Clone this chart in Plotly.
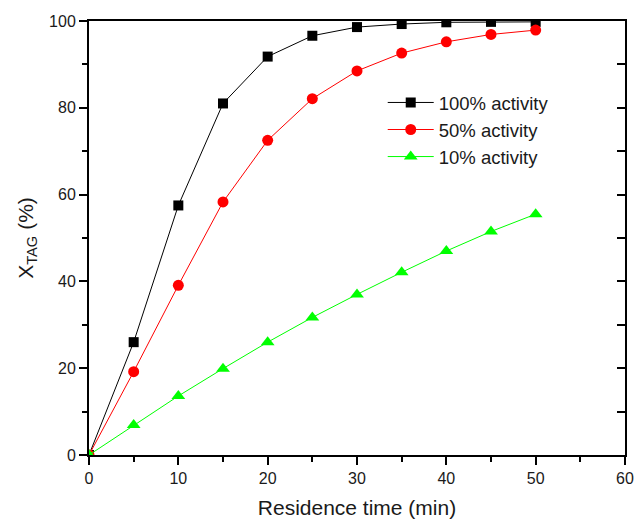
import plotly.graph_objects as go

time_min = [0, 5, 10, 15, 20, 25, 30, 35, 40, 45, 50]
act_100 = [0, 26.0, 57.5, 81.0, 91.8, 96.6, 98.6, 99.3, 99.7, 99.8, 99.8]
act_50 = [0, 19.2, 39.1, 58.3, 72.5, 82.1, 88.5, 92.6, 95.2, 96.9, 97.9]
act_10 = [0, 6.9, 13.6, 19.9, 26.0, 31.7, 37.0, 42.1, 47.0, 51.5, 55.5]

series_names = ["100% activity", "50% activity", "10% activity"]
colors = ["#000000", "#ff0000", "#00ff00"]
symbols = ["square", "circle", "triangle-up"]
sizes = [10, 11, 12]

fig = go.Figure()
for name, vals, c, s, sz in zip(series_names, [act_100, act_50, act_10], colors, symbols, sizes):
    fig.add_trace(go.Scatter(
        x=time_min, y=vals, name=name, mode="lines+markers",
        line=dict(color=c, width=1),
        marker=dict(symbol=s, size=sz, color=c, line=dict(width=0)),
    ))

# invisible trace for right-side inward ticks
fig.add_trace(go.Scatter(x=[0], y=[0], yaxis="y2", showlegend=False,
                         mode="markers", marker=dict(opacity=0), hoverinfo="skip"))

font_family = "Arial, Liberation Sans, sans-serif"
fig.update_layout(
    width=637, height=519,
    margin=dict(l=89, r=12, t=21, b=64, autoexpand=False),
    plot_bgcolor="white", paper_bgcolor="white",
    font=dict(family=font_family, color="#1a1a1a", size=16),
    showlegend=True,
    legend=dict(x=0.548, y=0.855, xanchor="left", yanchor="top",
                bgcolor="rgba(0,0,0,0)", font=dict(size=18.5),
                tracegroupgap=0, itemwidth=46),
    xaxis=dict(range=[0, 60], dtick=10, tick0=0, showgrid=False, zeroline=False,
               automargin=False,
               showline=True, linecolor="black", linewidth=2, mirror=True,
               ticks="outside", ticklen=8, tickwidth=1.5, tickcolor="black",
               minor=dict(dtick=5, ticks="outside", ticklen=5, tickwidth=1.5, tickcolor="black"),
               title=dict(text="Residence time (min)", font=dict(size=21), standoff=15),
               tickfont=dict(size=16)),
    yaxis=dict(range=[0, 100], dtick=20, tick0=0, showgrid=False, zeroline=False,
               automargin=False,
               showline=True, linecolor="black", linewidth=2, mirror=True,
               ticks="outside", ticklen=8, tickwidth=1.5, tickcolor="black",
               minor=dict(dtick=10, ticks="outside", ticklen=5, tickwidth=1.5, tickcolor="black"),
               title=dict(text="X<sub>TAG</sub> (%)", font=dict(size=21), standoff=10),
               tickfont=dict(size=16)),
    yaxis2=dict(range=[0, 100], overlaying="y", side="right", dtick=10,
                automargin=False,
                showgrid=False, zeroline=False, showticklabels=False,
                ticks="inside", ticklen=8, tickwidth=1.5, tickcolor="black",
                showline=False),
)

fig.write_html("out.html")
